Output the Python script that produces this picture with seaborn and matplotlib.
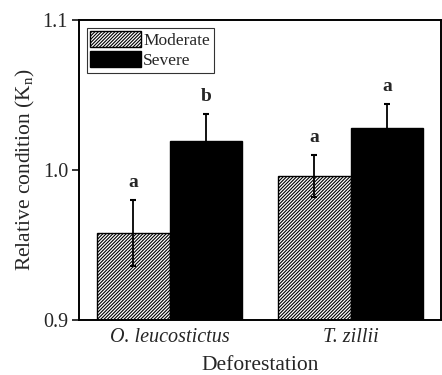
import matplotlib
matplotlib.use("Agg")
import matplotlib.pyplot as plt
import seaborn as sns
import pandas as pd
import numpy as np

species = ["O. leucostictus", "O. leucostictus", "T. zillii", "T. zillii"]
deforestation = ["Moderate", "Severe", "Moderate", "Severe"]
means = [0.958, 1.019, 0.996, 1.028]
errors = [0.022, 0.018, 0.014, 0.016]
letters = ["a", "b", "a", "a"]
yticks = [0.9, 1.0, 1.1]

df = pd.DataFrame({"species": species, "level": deforestation, "Kn": means, "err": errors, "letter": letters})

sns.set_theme(style="ticks")
plt.rcParams['font.family'] = ['Liberation Serif', 'DejaVu Serif']
plt.rcParams['mathtext.fontset'] = 'custom'
plt.rcParams['mathtext.rm'] = 'Liberation Serif'
plt.rcParams['mathtext.it'] = 'Liberation Serif:italic'
plt.rcParams['hatch.linewidth'] = 0.8

HATCH = "//////////"

fig = plt.figure(figsize=(4.42, 3.75), dpi=100)
ax = fig.add_axes([0.179, 0.147, 0.819, 0.8])

sns.barplot(data=df, x="species", y="Kn", hue="level", hue_order=["Moderate", "Severe"],
            palette=["white", "black"], edgecolor="black", linewidth=1.0,
            errorbar=None, width=0.8, ax=ax, legend=True)

levels = ["Moderate", "Severe"]
for cont, lev in zip(ax.containers, levels):
    sub = df[df.level == lev].set_index("species")
    for bar, sp in zip(cont, ["O. leucostictus", "T. zillii"]):
        if lev == "Moderate":
            bar.set_hatch(HATCH)
        x = bar.get_x() + bar.get_width() / 2
        m = sub.loc[sp, "Kn"]
        e = sub.loc[sp, "err"]
        ax.errorbar(x, m, yerr=e, fmt="none", ecolor="black", elinewidth=1.3,
                    capsize=2.2, capthick=1.5, zorder=5)
        ax.text(x, m + e + 0.006, sub.loc[sp, "letter"], ha="center", va="bottom",
                fontsize=14, fontweight="bold")

ax.set_ylim(0.9, 1.1)
ax.set_xlim(-0.5, 1.5)
ax.set_yticks(yticks)
ax.set_yticklabels([f"{v:.1f}" for v in yticks], fontsize=14.5)
for lab in ax.get_xticklabels():
    lab.set_fontstyle("italic")
    lab.set_fontsize(14.5)
ax.tick_params(axis="x", length=0, pad=6)
ax.tick_params(axis="y", direction="out", length=5, width=1.3, pad=3)
for s in ax.spines.values():
    s.set_visible(True)
    s.set_linewidth(1.4)
    s.set_color("black")

ax.set_xlabel("Deforestation", fontsize=15.5, labelpad=6)
ax.set_ylabel("Relative condition (K$_\\mathregular{n}$)", fontsize=15.5, labelpad=4)

handles, labels = ax.get_legend_handles_labels()
handles[0].set_hatch(HATCH)
leg = ax.legend(handles, labels, loc="upper left", fontsize=12.5, frameon=True, fancybox=False,
                edgecolor="black", handlelength=2.9, handleheight=1.0, borderpad=0.2,
                labelspacing=0.15, handletextpad=0.15, borderaxespad=0.45)
leg.get_frame().set_linewidth(0.8)

fig.savefig("out.png", dpi=100)
